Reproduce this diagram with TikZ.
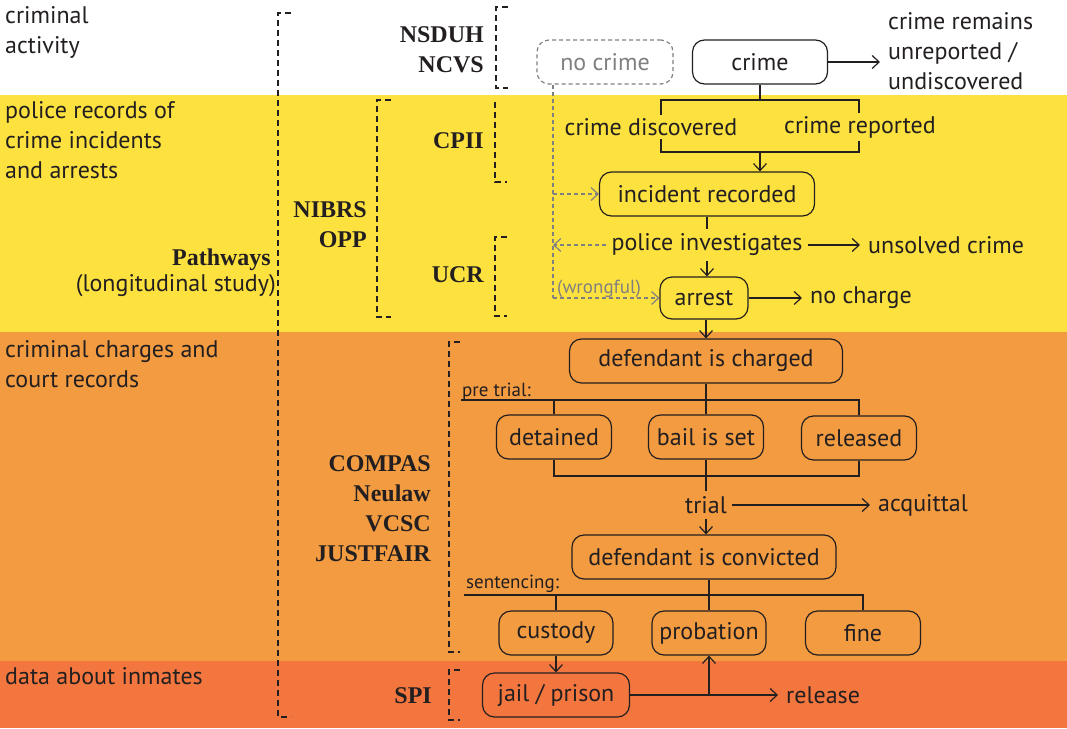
\documentclass[tikz,border=0pt]{standalone}
\usepackage{fontspec}
\setmainfont{PT Sans}
\newfontfamily\dsfont{Liberation Serif}
\usetikzlibrary{positioning,arrows.meta}

\definecolor{bandyellow}{RGB}{253,226,63}
\definecolor{bandorange}{RGB}{242,155,65}
\definecolor{bandred}{RGB}{243,118,63}
\definecolor{ink}{RGB}{35,31,32}
\definecolor{faint}{RGB}{128,128,128}

\begin{document}
\begin{tikzpicture}[x=1pt,y=-1pt]
        \tikzstyle{every node}=[text=ink, font=\fontsize{24}{30}\selectfont]
        \tikzstyle{stagebox}=[draw=ink, line width=1.2pt, rounded corners=12pt, minimum height=44pt, inner sep=2pt]
        \tikzstyle{ghostbox}=[stagebox, draw=faint, text=faint, dash pattern=on 4pt off 3pt]
        \tikzstyle{link}=[draw=ink, line width=1.2pt]
        \tikzstyle{flow}=[link, -{Straight Barb[length=7pt,width=13pt]}]
        \tikzstyle{ghostline}=[draw=faint, line width=1.2pt, dash pattern=on 4pt off 3pt]
        \tikzstyle{ghostflow}=[ghostline, -{Straight Barb[length=7pt,width=13pt]}]
        \tikzstyle{bracket}=[draw=ink, line width=1.2pt, dash pattern=on 6pt off 4pt]
        \tikzstyle{dataset}=[font=\dsfont\bfseries\fontsize{24}{30}\selectfont, align=right, anchor=base east, inner sep=0]
        \tikzstyle{band}=[align=left, anchor=base west, inner sep=0]
        \tikzstyle{outcome}=[anchor=west, align=left, inner xsep=8pt, inner ysep=0]
        \tikzstyle{smallnote}=[font=\fontsize{19}{22}\selectfont, anchor=base west, inner sep=0]

        % bands
        \useasboundingbox (0,0) rectangle (1067,728);
        \fill[bandyellow] (0,95) rectangle (1067,332);
        \fill[bandorange] (0,332) rectangle (1067,661);
        \fill[bandred] (0,661) rectangle (1067,728);

        % (base of a several-line node = last line)
        \node[band] (activity)  at (5,53)  {criminal\\activity};
        \node[band] (policerec) at (5,178) {police records of\\crime incidents\\and arrests};
        \node[band] (courtrec)  at (5,387) {criminal charges and\\court records};
        \node[band] (inmates)   at (5,684) {data about inmates};

        % data sets
        \node[dataset] (pathways) at (271,265) {Pathways};
        \node[anchor=base east, inner sep=0] (longitudinal) at (276,291) {(longitudinal study)};
        \node[dataset] (nibrs)  at (367,247) {NIBRS\\OPP};
        \node[dataset] (nsduh)  at (484,72)  {NSDUH\\NCVS};
        \node[dataset] (cpii)   at (484,148) {CPII};
        \node[dataset] (ucr)    at (484,282) {UCR};
        \node[dataset] (compas) at (431,561) {COMPAS\\Neulaw\\VCSC\\JUSTFAIR};
        \node[dataset] (spi)    at (432,703) {SPI};

        \draw[bracket] (291,13) -- (278,13) -- (278,717) -- (291,717);
        \draw[bracket] (391,100) -- (377,100) -- (377,317) -- (391,317);
        \draw[bracket] (508,7) -- (496,7) -- (496,88) -- (508,88);
        \draw[bracket] (495,102) -- (495,182) -- (507,182);
        \draw[bracket] (507,237) -- (495,237) -- (495,316) -- (507,316);
        \draw[bracket] (460,342) -- (449,342) -- (449,652) -- (460,652);
        \draw[bracket] (460,670) -- (449,670) -- (449,720) -- (460,720);

        % police part
        \node[ghostbox, minimum width=136pt] (nocrime) at (605,62) {no crime};
        \node[stagebox, minimum width=135pt] (crime) at (760,62) {crime};
        \node[outcome] (unreported) at (880,51) {crime remains\\unreported /\\undiscovered};
        \draw[flow] (crime.east) -- (crime.east -| unreported.west);

        \coordinate (reportL) at (661,100);
        \coordinate (reportR) at (859,152);
        \coordinate (recordJoin) at (760,152);
        \draw[link] (crime) -- (crime |- reportL);
        \draw[link] (reportL) rectangle (reportR);
        \node[fill=bandyellow, inner sep=3pt] (discovered) at (651,127) {crime discovered};
        \node[fill=bandyellow, inner sep=3pt] (reported) at (860,127) {crime reported};

        \node[stagebox, minimum width=215pt] (incident) at (707,194) {incident recorded};
        \draw[flow] (recordJoin) -- (recordJoin |- incident.north);

        \node[inner sep=5pt] (investigates) at (707,245) {police investigates};
        \node[outcome] (unsolved) at (860,245) {unsolved crime};
        \node[stagebox, minimum width=88pt, minimum height=42pt] (arrest) at (704,298) {arrest};
        \node[outcome] (nocharge) at (802,298) {no charge};
        \node[smallnote, text=faint] (wrongful) at (557,293) {(wrongful)};

        \draw[link] (incident) -- (investigates);
        \draw[flow] (investigates.south) -- (investigates.south |- arrest.north);
        \draw[flow] (investigates) -- (unsolved);
        \draw[flow] (arrest) -- (nocharge);

        \coordinate (ghostX) at (553,0);
        \coordinate (ghostBottom) at (553,298);
        \draw[ghostline] (nocrime.south -| ghostX) -- (ghostBottom);
        \draw[ghostflow] (ghostBottom) -- (arrest);
        \draw[ghostflow] (incident.west -| ghostX) -- (incident);
        \draw[ghostflow] (investigates) -- (investigates -| ghostX);

        % court part
        \node[stagebox, minimum width=273pt] (charged) at (706,361) {defendant is charged};
        \draw[flow] (arrest.south -| charged) -- (charged);

        \node[smallnote] (pretrial) at (462,396) {pre trial:};
        \node[stagebox, minimum width=115pt] (detained) at (554,437) {detained};
        \node[stagebox, minimum width=115pt] (bail) at (706,437) {bail is set};
        \node[stagebox, minimum width=115pt] (released) at (859,438) {released};

        \coordinate (pretrialL) at (461,400);
        \coordinate (pretrialR) at (859,400);
        \coordinate (pretrialJoin) at (706,476);
        \draw[link] (charged) -- (charged |- pretrialL);
        \draw[link] (pretrialL) -- (pretrialR) -- (released);
        \draw[link] (detained |- pretrialL) -- (detained);
        \draw[link] (bail |- pretrialL) -- (bail);
        \draw[link] (detained) |- (pretrialJoin) -| (released);

        \node[inner sep=5pt] (trial) at (706,505) {trial};
        \node[outcome] (acquittal) at (870,505) {acquittal};
        \node[stagebox, minimum width=264pt] (convicted) at (704,557) {defendant is convicted};
        \draw[link] (bail) -- (pretrialJoin) -- (trial);
        \draw[flow] (trial) -- (trial |- convicted.north);
        \draw[flow] (trial) -- (acquittal);

        \node[smallnote] (sentencing) at (466,588) {sentencing:};
        \node[stagebox, minimum width=114pt] (custody) at (556,633) {custody};
        \node[stagebox, minimum width=114pt] (probation) at (709,633) {probation};
        \node[stagebox, minimum width=115pt] (fine) at (863,633) {fine};

        \coordinate (sentL) at (464,595);
        \coordinate (sentR) at (863,595);
        \coordinate (sentMid) at (709,595);
        \draw[link] (sentMid |- convicted.south) -- (sentMid);
        \draw[link] (sentL) -- (sentR) -- (fine);
        \draw[link] (custody |- sentL) -- (custody);
        \draw[link] (sentMid) -- (probation);

        % inmates part
        \node[stagebox, minimum width=147pt] (jail) at (556,695) {jail / prison};
        \node[outcome] (release) at (778,695) {release};
        \coordinate (releaseFork) at (709,695);
        \draw[flow] (custody) -- (jail);
        \draw[link] (jail) -- (releaseFork);
        \draw[flow] (releaseFork) -- (probation);
        \draw[flow] (releaseFork) -- (release);

\end{tikzpicture}
\end{document}
